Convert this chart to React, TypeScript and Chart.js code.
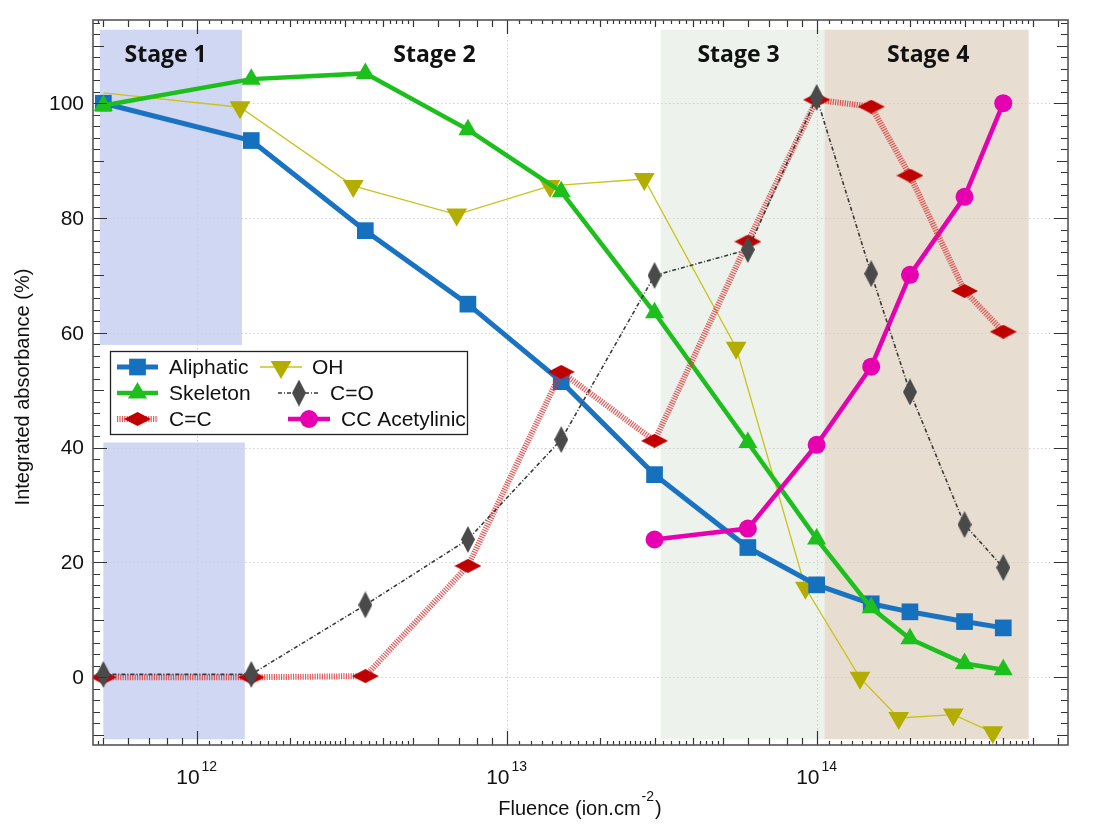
import React, { useEffect, useRef } from "react";
import { Chart, registerables } from "chart.js";

Chart.register(...registerables);

// ---------- data ----------
const fluence = [5e11, 1.5e12, 3.5e12, 7.5e12, 1.5e13, 3e13, 6e13, 1e14, 1.5e14, 2e14, 3e14, 4e14];
const fluenceOH = [5e11, 1.38e12, 3.2e12, 6.9e12, 1.38e13, 2.78e13, 5.5e13, 9.2e13, 1.38e14, 1.84e14, 2.76e14, 3.7e14];
const fluenceCC = [3e13, 6e13, 1e14, 1.5e14, 2e14, 3e14, 4e14];

const aliphatic = [100, 93.5, 77.8, 65, 51.5, 35.3, 22.6, 16.1, 12.8, 11.4, 9.7, 8.6];
const skeleton = [99.6, 104.2, 105.2, 95.4, 84.6, 63.5, 40.9, 24.1, 12.1, 6.7, 2.4, 1.3];
const cDoubleC = [0, 0, 0.2, 19.4, 53.2, 41.2, 75.9, 100.6, 99.4, 87.4, 67.3, 60.2];
const cDoubleO = [0.5, 0.5, 12.6, 24, 41.4, 70, 74.5, 101, 70.3, 49.7, 26.6, 19.1];
const oh = [101.8, 99.3, 85.6, 80.6, 85.6, 86.8, 57.4, 15.6, -0.1, -7.1, -6.5, -9.6];
const ccAcetylinic = [24, 25.9, 40.5, 54.1, 70.1, 83.7, 100];

const seriesLabels = ["Aliphatic", "Skeleton", "C=C", "OH", "C=O", "CC Acetylinic"];

const stageLabels = ["Stage 1", "Stage 2", "Stage 3", "Stage 4"];
const stageLabelX = [7.94e11, 5.85e12, 5.6e13, 2.29e14];
const stageStart = [4.87e11, 3.14e13, 1.06e14];
const stageEnd = [1.4e12, 1.06e14, 4.83e14];

const yTickValues = [0, 20, 40, 60, 80, 100];
const xTickDecades = [12, 13, 14];

const xMin = 4.63e11;
const xMax = 6.47e14;
const yMin = -11.8;
const yMax = 114.5;

// ---------- helpers ----------
const pts = (xs: number[], ys: number[]) => xs.map((x, i) => ({ x, y: ys[i] }));

function makeDiamond(w: number, h: number, color: string) {
  const c = document.createElement("canvas");
  c.width = w;
  c.height = h;
  const g = c.getContext("2d")!;
  g.fillStyle = color;
  g.beginPath();
  g.moveTo(w / 2, 0);
  g.lineTo(w, h / 2);
  g.lineTo(w / 2, h);
  g.lineTo(0, h / 2);
  g.closePath();
  g.fill();
  return c;
}

const FONT = '"Liberation Sans", Arial, sans-serif';

function drawMarker(ctx: CanvasRenderingContext2D, ds: any, x: number, y: number) {
  const style = ds.pointStyle;
  const r = ds.legendRadius;
  const color = ds.pointBackgroundColor;
  ctx.save();
  ctx.setLineDash([]);
  ctx.fillStyle = color;
  if (style instanceof HTMLCanvasElement) {
    ctx.drawImage(style, x - style.width / 2, y - style.height / 2);
  } else if (style === "rect") {
    const s = Math.SQRT1_2 * r;
    ctx.fillRect(x - s, y - s, 2 * s, 2 * s);
  } else if (style === "triangle") {
    const rot = ((ds.pointRotation || 0) * Math.PI) / 180;
    ctx.beginPath();
    for (let k = 0; k < 3; k++) {
      const a = rot + (k * 2 * Math.PI) / 3;
      const px = x + Math.sin(a) * r;
      const py = y - Math.cos(a) * r;
      if (k === 0) ctx.moveTo(px, py);
      else ctx.lineTo(px, py);
    }
    ctx.closePath();
    ctx.fill();
  } else {
    ctx.beginPath();
    ctx.arc(x, y, r, 0, Math.PI * 2);
    ctx.fill();
  }
  ctx.restore();
}

const decorPlugin = {
  id: "decor",
  beforeDatasetsDraw(chart: any) {
    const { ctx, chartArea: ca, scales } = chart;
    const sx = scales.x;
    const sy = scales.y;
    ctx.save();
    const band = (x0: number, x1: number, y0: number, y1: number, color: string) => {
      const px0 = sx.getPixelForValue(x0);
      const px1 = sx.getPixelForValue(x1);
      const py0 = sy.getPixelForValue(y1);
      const py1 = sy.getPixelForValue(y0);
      ctx.fillStyle = color;
      ctx.fillRect(px0, py0, px1 - px0, py1 - py0);
    };
    band(stageStart[0], stageEnd[0], 57.9, 112.8, "#d0d7f2");
    band(5e11, 1.43e12, -10.8, 40.9, "#d0d7f2");
    band(stageStart[1], stageEnd[1], -10.8, 112.8, "#edf2ec");
    band(stageStart[2], stageEnd[2], -10.8, 112.8, "#e7ddd1");

    ctx.strokeStyle = "#d0d0d0";
    ctx.lineWidth = 1;
    ctx.setLineDash([1.5, 2.5]);
    yTickValues.forEach((v) => {
      const py = Math.round(sy.getPixelForValue(v)) + 0.5;
      ctx.beginPath();
      ctx.moveTo(ca.left, py);
      ctx.lineTo(ca.right, py);
      ctx.stroke();
    });
    xTickDecades.forEach((d) => {
      const px = Math.round(sx.getPixelForValue(Math.pow(10, d))) + 0.5;
      ctx.beginPath();
      ctx.moveTo(px, ca.top);
      ctx.lineTo(px, ca.bottom);
      ctx.stroke();
    });
    ctx.setLineDash([]);

    ctx.fillStyle = "#111";
    ctx.font = 'bold 23px "Open Sans", sans-serif';
    ctx.textAlign = "center";
    ctx.textBaseline = "alphabetic";
    stageLabels.forEach((s, i) => {
      ctx.fillText(s, sx.getPixelForValue(stageLabelX[i]), sy.getPixelForValue(107.2));
    });
    ctx.restore();
  },
  afterDraw(chart: any) {
    const { ctx, chartArea: ca, scales } = chart;
    const sx = scales.x;
    const sy = scales.y;
    ctx.save();
    ctx.setLineDash([]);
    ctx.strokeStyle = "#333";
    ctx.lineWidth = 1.2;
    const vtick = (px: number, len: number) => {
      ctx.beginPath();
      ctx.moveTo(px, ca.bottom);
      ctx.lineTo(px, ca.bottom - len);
      ctx.moveTo(px, ca.top);
      ctx.lineTo(px, ca.top + len);
      ctx.stroke();
    };
    for (let d = 11; d <= 14; d++) {
      const steps: number[] = [];
      for (let m = 10; m < 30; m += 1) steps.push(m / 10);
      for (let m = 30; m < 50; m += 2) steps.push(m / 10);
      for (let m = 5; m < 10; m += 1) steps.push(m);
      steps.forEach((m) => {
        const v = m * Math.pow(10, d);
        if (v < xMin || v > xMax) return;
        const px = Math.round(sx.getPixelForValue(v)) + 0.5;
        const isInt = Math.abs(m - Math.round(m)) < 1e-6;
        const len = m === 1 ? 14 : isInt ? 7 : 4;
        vtick(px, len);
      });
    }
    for (let v = -10; v <= 114; v += 2) {
      const py = Math.round(sy.getPixelForValue(v)) + 0.5;
      const len = v % 20 === 0 ? 14 : v % 10 === 0 ? 11 : 7;
      ctx.beginPath();
      ctx.moveTo(ca.left, py);
      ctx.lineTo(ca.left + len, py);
      ctx.moveTo(ca.right, py);
      ctx.lineTo(ca.right - len, py);
      ctx.stroke();
    }
    ctx.strokeStyle = "#555";
    ctx.lineWidth = 1.6;
    ctx.strokeRect(ca.left, ca.top, ca.right - ca.left, ca.bottom - ca.top);

    ctx.fillStyle = "#111";
    ctx.font = `21px ${FONT}`;
    ctx.textAlign = "right";
    ctx.textBaseline = "middle";
    yTickValues.forEach((v) => {
      ctx.fillText(String(v), ca.left - 9, sy.getPixelForValue(v) + 1);
    });

    ctx.textBaseline = "alphabetic";
    ctx.textAlign = "left";
    xTickDecades.forEach((d) => {
      const px = sx.getPixelForValue(Math.pow(10, d));
      ctx.font = `21px ${FONT}`;
      const w1 = ctx.measureText("10").width;
      ctx.font = `14px ${FONT}`;
      const w2 = ctx.measureText(String(d)).width;
      const start = px - (w1 + 2 + w2) / 2;
      ctx.font = `21px ${FONT}`;
      ctx.fillText("10", start, 784);
      ctx.font = `14px ${FONT}`;
      ctx.fillText(String(d), start + w1 + 2, 771);
    });

    {
      const main = "Fluence (ion.cm";
      ctx.font = `20px ${FONT}`;
      const wm = ctx.measureText(main).width;
      const wp = ctx.measureText(")").width;
      ctx.font = `14px ${FONT}`;
      const ws = ctx.measureText("-2").width;
      const total = wm + ws + 2 + wp;
      const start = 580 - total / 2;
      ctx.font = `20px ${FONT}`;
      ctx.fillText(main, start, 815);
      ctx.font = `14px ${FONT}`;
      ctx.fillText("-2", start + wm + 1, 801);
      ctx.font = `20px ${FONT}`;
      ctx.fillText(")", start + wm + ws + 2, 815);
    }
    ctx.save();
    ctx.translate(29, 387);
    ctx.rotate(-Math.PI / 2);
    ctx.textAlign = "center";
    ctx.font = `20px ${FONT}`;
    ctx.fillText("Integrated absorbance (%)", 0, 0);
    ctx.restore();

    const lx0 = 110, ly0 = 351, lx1 = 467, ly1 = 434;
    ctx.fillStyle = "#fff";
    ctx.fillRect(lx0, ly0, lx1 - lx0, ly1 - ly0);
    ctx.strokeStyle = "#222";
    ctx.lineWidth = 1.3;
    ctx.strokeRect(lx0 + 0.5, ly0 + 0.5, lx1 - lx0, ly1 - ly0);
    const layout = [
      { i: 0, s: 117, e: 158, t: 169, y: 367 },
      { i: 1, s: 117, e: 158, t: 169, y: 393 },
      { i: 2, s: 117, e: 158, t: 169, y: 419 },
      { i: 3, s: 260, e: 302, t: 312, y: 367 },
      { i: 4, s: 278, e: 320, t: 330, y: 393 },
      { i: 5, s: 288, e: 330, t: 341, y: 419 },
    ];
    layout.forEach((it) => {
      const ds: any = chart.data.datasets.find((d: any) => d.label === seriesLabels[it.i]);
      ctx.save();
      ctx.strokeStyle = ds.borderColor;
      ctx.lineWidth = ds.borderWidth;
      ctx.setLineDash(ds.borderDash || []);
      ctx.beginPath();
      ctx.moveTo(it.s, it.y);
      ctx.lineTo(it.e, it.y);
      ctx.stroke();
      ctx.restore();
      drawMarker(ctx, ds, (it.s + it.e) / 2, it.y);
      ctx.fillStyle = "#111";
      ctx.font = `21px ${FONT}`;
      ctx.textAlign = "left";
      ctx.textBaseline = "middle";
      ctx.fillText(seriesLabels[it.i], it.t, it.y + 1);
    });
    ctx.restore();
  },
};

export default function App() {
  const ref = useRef<HTMLCanvasElement>(null);
  useEffect(() => {
    const canvas = ref.current!;
    const ccDiamond = makeDiamond(27, 14, "#c00000");
    const coDiamond = makeDiamond(14, 27, "#4a4a4a");
    const datasets: any[] = [
      {
        label: seriesLabels[4],
        data: pts(fluence, cDoubleO),
        borderColor: "#3a3a3a",
        borderWidth: 1.6,
        borderDash: [4, 2, 1, 2],
        pointStyle: coDiamond,
        pointRadius: 14,
        legendRadius: 14,
        pointBackgroundColor: "#4a4a4a",
      },
      {
        label: seriesLabels[2],
        data: pts(fluence, cDoubleC),
        borderColor: "rgba(218,50,50,0.8)",
        borderWidth: 6,
        borderDash: [1.2, 1.2],
        pointStyle: ccDiamond,
        pointRadius: 14,
        legendRadius: 14,
        pointBackgroundColor: "#c00000",
      },
      {
        label: seriesLabels[5],
        data: pts(fluenceCC, ccAcetylinic),
        borderColor: "#e600b0",
        borderWidth: 4.5,
        pointStyle: "circle",
        pointRadius: 9,
        legendRadius: 9,
        pointBackgroundColor: "#e600b0",
        pointBorderColor: "#e600b0",
        pointBorderWidth: 0,
      },
      {
        label: seriesLabels[1],
        data: pts(fluence, skeleton),
        borderColor: "#1dbf1d",
        borderWidth: 4.5,
        pointStyle: "triangle",
        pointRadius: 11,
        legendRadius: 11,
        pointBackgroundColor: "#1dbf1d",
        pointBorderColor: "#1dbf1d",
        pointBorderWidth: 0,
      },
      {
        label: seriesLabels[0],
        data: pts(fluence, aliphatic),
        borderColor: "#1a73c2",
        borderWidth: 5,
        pointStyle: "rect",
        pointRadius: 11.8,
        legendRadius: 11.8,
        pointBackgroundColor: "#1570be",
        pointBorderColor: "#1570be",
        pointBorderWidth: 0,
      },
      {
        label: seriesLabels[3],
        data: pts(fluenceOH, oh),
        borderColor: "#c9c31c",
        borderWidth: 1.3,
        pointStyle: "triangle",
        pointRotation: 180,
        pointRadius: fluenceOH.map((_, i) => (i === 0 ? 0 : 12)),
        legendRadius: 12,
        pointBackgroundColor: "#b3ad00",
        pointBorderColor: "#b3ad00",
        pointBorderWidth: 0,
      },
    ];
    const chart = new Chart(canvas, {
      type: "line",
      data: { datasets },
      options: {
        responsive: false,
        animation: false,
        devicePixelRatio: 1,
        layout: { padding: { left: 93, right: 39, top: 20, bottom: 88 } },
        plugins: { legend: { display: false }, tooltip: { enabled: false } },
        elements: { line: { tension: 0 } },
        scales: {
          x: { type: "logarithmic", min: xMin, max: xMax, display: false },
          y: { type: "linear", min: yMin, max: yMax, display: false },
        },
      } as any,
      plugins: [decorPlugin],
    });
    return () => chart.destroy();
  }, []);
  return (
    <div style={{ position: "fixed", left: 0, top: 0, width: 1107, height: 833, background: "#fff" }}>
      <canvas ref={ref} width={1107} height={833} style={{ display: "block" }} />
    </div>
  );
}
